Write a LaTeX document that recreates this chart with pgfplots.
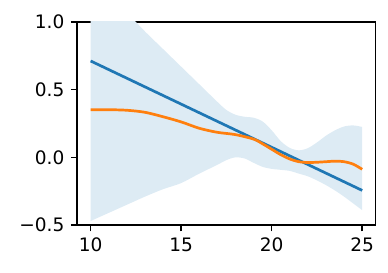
\documentclass[border=0pt]{standalone}
\usepackage{fontspec}
\setmainfont{DejaVu Sans}
\usepackage{pgfplots}
\pgfplotsset{compat=1.18}
\usepgfplotslibrary{fillbetween}
\definecolor{tabblue}{HTML}{1F77B4}
\definecolor{taborange}{HTML}{FF7F0E}
\definecolor{bandblue}{RGB}{221,235,244}
\begin{document}
\begin{tikzpicture}
\begin{axis}[
  scale only axis, width=165.9pt, height=112.8pt,
  xmin=9.25, xmax=25.75, ymin=-0.5, ymax=1.0,
  xtick={10,15,20,25}, xticklabels={10,15,20,25},
  ytick={-0.5,0,0.5,1}, yticklabels={−0.5,0.0,0.5,1.0},
  tick align=outside, tick pos=left,
  major tick length=3.5pt,
  every tick/.style={black, line width=0.8pt},
  axis line style={black, line width=0.8pt},
  tick label style={font=\fontsize{10.3}{12}\selectfont},
]
\addplot[name path=up, draw=none, smooth, tension=0.5] coordinates {
(10,1.30) (11,1.20) (12,1.07) (13,0.93) (14,0.80) (15,0.67) (16,0.54) (17,0.41) (17.5,0.35) (18,0.315) (18.5,0.30) (19,0.293) (19.5,0.265) (20,0.20) (20.5,0.12) (21,0.07) (21.5,0.052) (22,0.068) (22.5,0.11) (23,0.16) (23.5,0.20) (24,0.228) (24.5,0.236) (25,0.225)
};
\addplot[name path=lo, draw=none, smooth, tension=0.5] coordinates {
(10,-0.47) (11,-0.41) (12,-0.35) (13,-0.29) (14,-0.235) (15,-0.19) (16,-0.12) (17,-0.055) (17.5,-0.02) (18,0.0) (18.5,-0.008) (19,-0.04) (19.5,-0.07) (20,-0.085) (20.5,-0.092) (21,-0.10) (21.5,-0.12) (22,-0.14) (22.5,-0.17) (23,-0.205) (23.5,-0.245) (24,-0.29) (24.5,-0.34) (25,-0.39)
};
\addplot[fill=bandblue, draw=none] fill between[of=up and lo];
\addplot[tabblue, line width=1.5pt] coordinates {(10,0.712) (25,-0.244)};
\addplot[taborange, line width=1.5pt, smooth] coordinates {
(10,0.352) (11,0.352) (12,0.348) (13,0.333) (14,0.30) (15,0.262) (16,0.215) (17,0.185) (18,0.168) (19,0.135) (19.5,0.10) (20,0.06) (20.5,0.02) (21,-0.012) (21.5,-0.032) (22,-0.038) (22.5,-0.036) (23,-0.032) (23.5,-0.028) (24,-0.032) (24.5,-0.05) (25,-0.088)
};
\end{axis}
\pgfresetboundingbox
\path (current axis.south west) ++(-42.8pt,-26.1pt) rectangle ([xshift=6.8pt,yshift=12.2pt]current axis.north east);
\end{tikzpicture}
\end{document}
